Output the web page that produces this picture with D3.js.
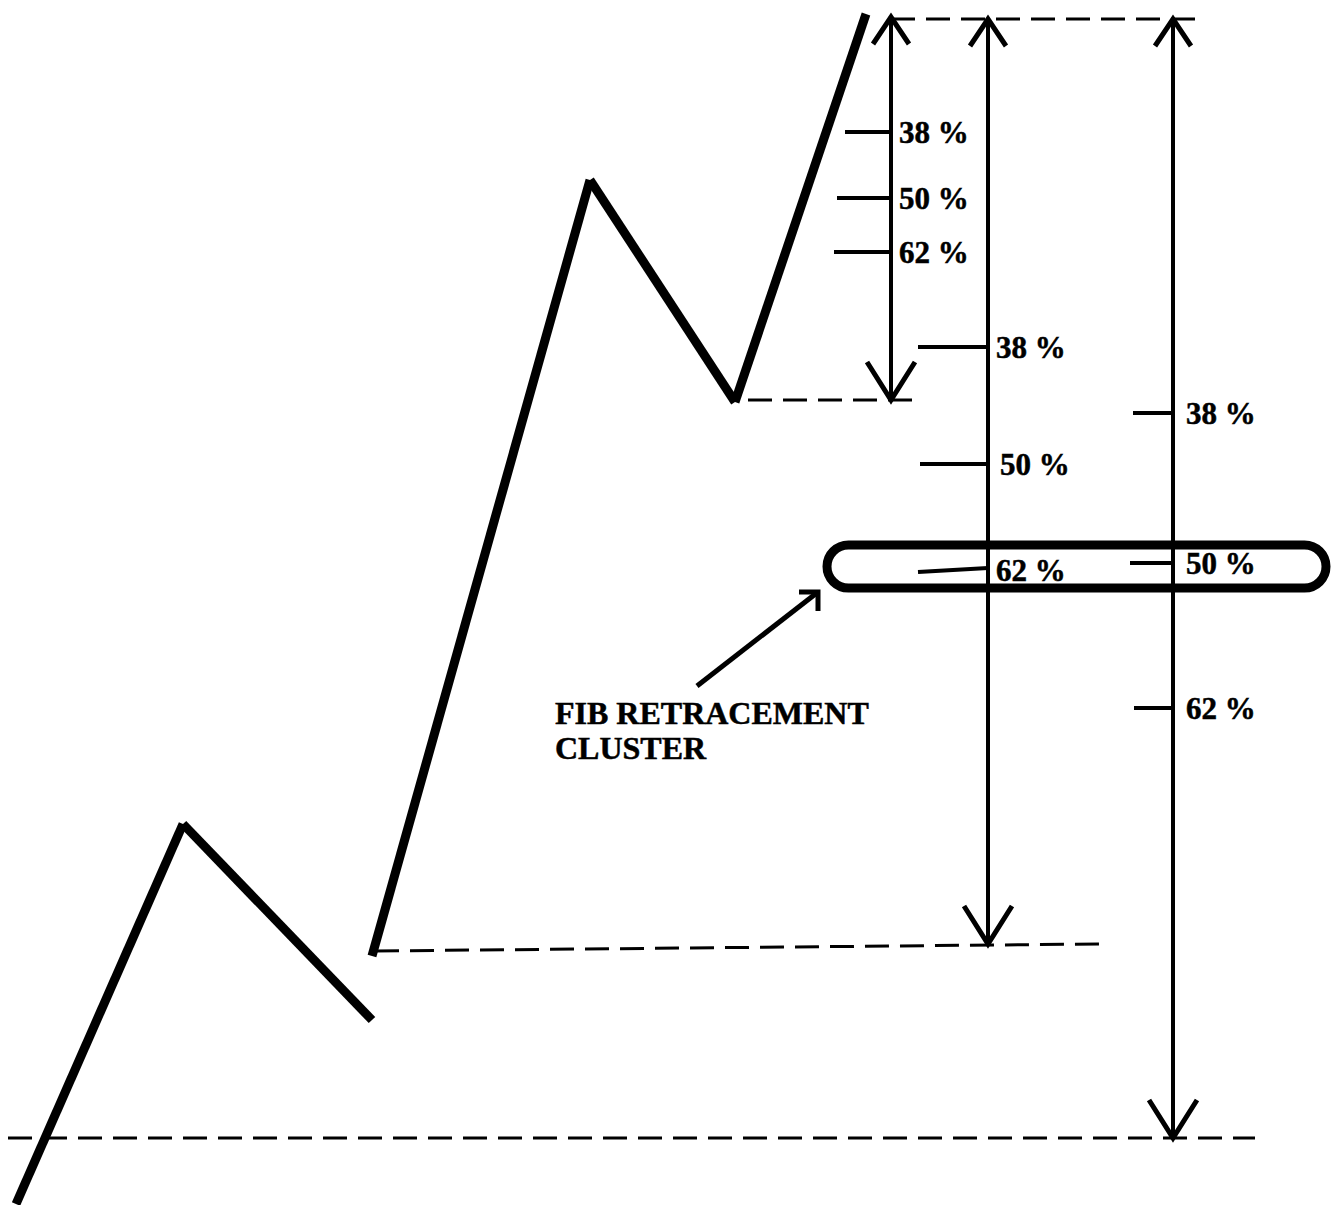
<!DOCTYPE html>
<html>
<head>
<meta charset="utf-8">
<script src="https://cdn.jsdelivr.net/npm/d3@7"></script>
<style>
  html, body { margin: 0; padding: 0; background: #fff; }
  svg { display: block; }
  text { font-family: "Liberation Serif", "Times New Roman", serif; font-weight: bold; fill: #000; stroke: #000; stroke-width: 0.5px; }
</style>
</head>
<body>
<div id="chart"></div>
<script>
// price swings (time, price) - drawn as separate legs
const swingLegs = [
  [[16, 1], [183, 381]],
  [[183, 381], [372, 185]],
  [[372, 249], [590, 1025]],
  [[590, 1025], [735, 803]],
  [[735, 803], [866, 1191]]
];

// dashed reference levels: [timeStart, priceStart, timeEnd, priceEnd]
const refLevels = [
  [891, 1186, 1203, 1186],
  [748, 805, 918, 805],
  [375, 254, 1100, 261],
  [8, 67, 1255, 67]
];

// measured swings (time of arrow, high, low)
const swingTimes = [891, 988, 1173];
const swingHighs = [1188, 1186, 1186];
const swingLows = [805, 261, 67];

// retracement levels per swing
const fibLabels = ['38 %', '50 %', '62 %'];
const fibPrices = [
  [1073, 1007, 953],
  [858, 741, 635],
  [792, 642, 497]
];
const fibTickStart = [
  [845, 837, 834],
  [918, 920, 918],
  [1133, 1130, 1134]
];

// cluster zone
const clusterTime = [827, 1326];
const clusterPrice = [617, 660];
const clusterNote = ['FIB RETRACEMENT', 'CLUSTER'];
const notePointer = [[697, 519], [818, 613]];

const width = 1340, height = 1205;

const x = d3.scaleLinear().domain([0, 1340]).range([0, width]);
const y = d3.scaleLinear().domain([0, 1205]).range([height, 0]);

const svg = d3.select('#chart').append('svg')
  .attr('width', width)
  .attr('height', height);

svg.append('rect').attr('width', width).attr('height', height).attr('fill', '#fff');

// dashed levels
svg.selectAll('.ref')
  .data(refLevels)
  .enter().append('line')
  .attr('class', 'ref')
  .attr('x1', d => x(d[0])).attr('y1', d => y(d[1]))
  .attr('x2', d => x(d[2])).attr('y2', d => y(d[3]))
  .attr('stroke', '#000')
  .attr('stroke-width', 3)
  .attr('stroke-dasharray', '24 11');

// price legs
const line = d3.line().x(d => x(d[0])).y(d => y(d[1]));
svg.selectAll('.leg')
  .data(swingLegs)
  .enter().append('path')
  .attr('class', 'leg')
  .attr('d', line)
  .attr('fill', 'none')
  .attr('stroke', '#000')
  .attr('stroke-width', 9)
  .attr('stroke-linecap', 'butt');

// measurement arrows
swingTimes.forEach((t, i) => {
  const g = svg.append('g');
  const cx = x(t);
  const top = y(swingHighs[i]);
  const bot = y(swingLows[i]);
  g.append('line')
    .attr('x1', cx).attr('x2', cx)
    .attr('y1', top).attr('y2', bot)
    .attr('stroke', '#000').attr('stroke-width', 4);

  const headTop = d3.path();
  headTop.moveTo(cx - 18, top + 27);
  headTop.lineTo(cx, top);
  headTop.lineTo(cx + 18, top + 27);
  g.append('path').attr('d', headTop.toString())
    .attr('fill', 'none').attr('stroke', '#000').attr('stroke-width', 5);

  const headBot = d3.path();
  headBot.moveTo(cx - 24, bot - 38);
  headBot.lineTo(cx, bot);
  headBot.lineTo(cx + 24, bot - 38);
  g.append('path').attr('d', headBot.toString())
    .attr('fill', 'none').attr('stroke', '#000').attr('stroke-width', 5);

  // retracement ticks and labels
  fibPrices[i].forEach((p, j) => {
    const startP = (i === 1 && j === 2) ? p - 2 : p;
    const endP = (i === 1 && j === 2) ? p + 2 : p;
    g.append('line')
      .attr('x1', x(fibTickStart[i][j])).attr('y1', y(startP))
      .attr('x2', cx).attr('y2', y(endP))
      .attr('stroke', '#000').attr('stroke-width', 4);
    const dx = i === 2 ? 13 : (i === 1 && j === 1 ? 12 : 8);
    g.append('text')
      .attr('x', cx + dx)
      .attr('y', y(p) + 11)
      .attr('font-size', 31)
      .text(fibLabels[j]);
  });
});

// cluster zone
const cx0 = x(clusterTime[0]), cx1 = x(clusterTime[1]);
const cy0 = y(clusterPrice[1]), cy1 = y(clusterPrice[0]);
svg.append('rect')
  .attr('x', cx0).attr('y', cy0)
  .attr('width', cx1 - cx0).attr('height', cy1 - cy0)
  .attr('rx', (cy1 - cy0) / 2).attr('ry', (cy1 - cy0) / 2)
  .attr('fill', 'none')
  .attr('stroke', '#000')
  .attr('stroke-width', 9);

// pointer to cluster
const px0 = x(notePointer[0][0]), py0 = y(notePointer[0][1]);
const px1 = x(notePointer[1][0]), py1 = y(notePointer[1][1]);
svg.append('line')
  .attr('x1', px0).attr('y1', py0).attr('x2', px1).attr('y2', py1)
  .attr('stroke', '#000').attr('stroke-width', 5);
const ph = d3.path();
ph.moveTo(px1 - 19, py1);
ph.lineTo(px1, py1);
ph.lineTo(px1, py1 + 19);
svg.append('path').attr('d', ph.toString())
  .attr('fill', 'none').attr('stroke', '#000').attr('stroke-width', 5);

// note text
svg.append('text')
  .attr('x', 555).attr('y', 724)
  .attr('font-size', 32)
  .selectAll('tspan')
  .data(clusterNote)
  .enter().append('tspan')
  .attr('x', 555)
  .attr('dy', (d, i) => i === 0 ? 0 : 35)
  .text(d => d);
</script>
</body>
</html>
